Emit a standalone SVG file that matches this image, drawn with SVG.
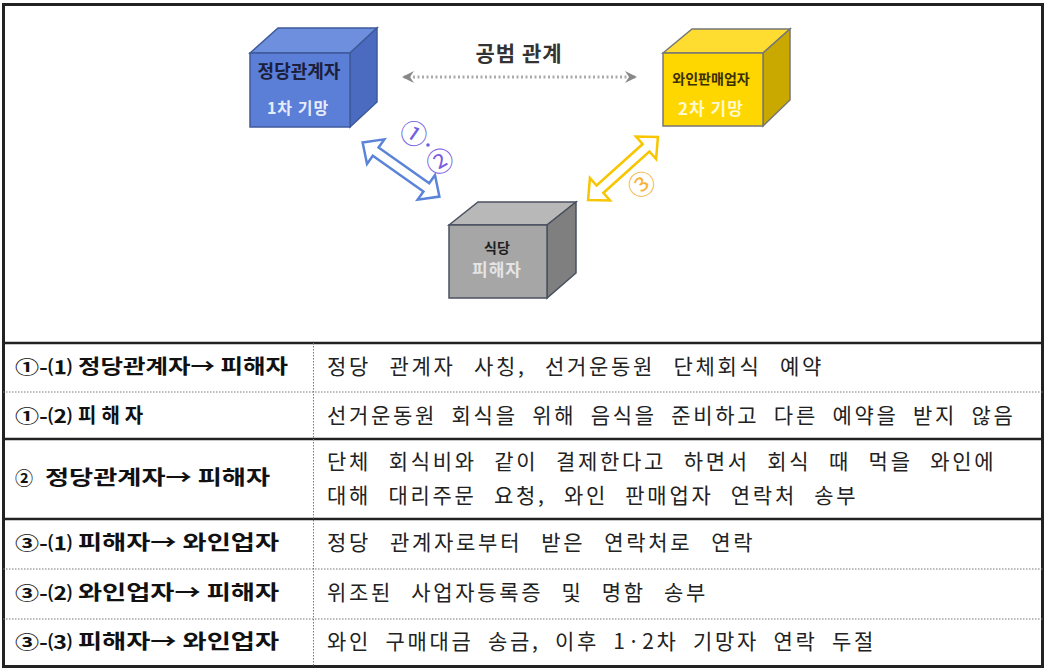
<svg xmlns="http://www.w3.org/2000/svg" width="1049" height="671" viewBox="0 0 1049 671">
<defs>
<style>
.k{font-family:"Noto Sans CJK KR","Noto Sans CJK SC",sans-serif}
.lb{font-family:"Noto Sans CJK KR",sans-serif;font-weight:bold;font-size:20px;fill:#111}
.lp{font-family:"Noto Sans CJK KR",sans-serif;font-weight:bold;font-size:18px;fill:#111}
.rt{font-family:"Noto Sans CJK KR",sans-serif;font-size:21px;fill:#222;letter-spacing:2.7px}
.thick{stroke:#222;stroke-width:2.5;fill:none}
.dot{stroke:#777;stroke-width:1;stroke-dasharray:1.5 1.5;fill:none}
</style>
<marker id="gh" viewBox="0 0 12 12" refX="10" refY="6" markerWidth="12" markerHeight="12" markerUnits="userSpaceOnUse" orient="auto-start-reverse">
<path d="M0,0 L12,6 L0,12 L4,6 Z" fill="#888"/>
</marker>
<path id="dbl" d="M-47,0 L-31,-15 L-31,-5 L31,-5 L31,-15 L47,0 L31,15 L31,5 L-31,5 L-31,15 Z"/>
</defs>
<rect x="0" y="0" width="1049" height="671" fill="#fff"/>

<g id="table">
<rect x="3.5" y="4.5" width="1039" height="662" fill="none" stroke="#222" stroke-width="3"/>
<line class="thick" x1="3" y1="343" x2="1043" y2="343"/>
<line class="dot" x1="3" y1="392" x2="1043" y2="392"/>
<line class="thick" x1="3" y1="439" x2="1043" y2="439"/>
<line class="thick" x1="3" y1="519" x2="1043" y2="519"/>
<line class="dot" x1="3" y1="569" x2="1043" y2="569"/>
<line class="dot" x1="3" y1="619" x2="1043" y2="619"/>
<line class="dot" x1="313.5" y1="343" x2="313.5" y2="666"/>
</g>

<g id="connectors">
<line x1="404" y1="77" x2="635" y2="77" stroke="#aaa" stroke-width="3" stroke-dasharray="2 2.5" marker-start="url(#gh)" marker-end="url(#gh)"/>
<use href="#dbl" transform="translate(401,169.5) rotate(35.2)" fill="#fff" stroke="#5b84d9" stroke-width="2.5" stroke-linejoin="miter"/>
<use href="#dbl" transform="translate(623,168.5) rotate(-42)" fill="#fff" stroke="#f7c600" stroke-width="2.5" stroke-linejoin="miter"/>
<text class="k" x="519" y="61" font-size="21" font-weight="bold" fill="#333" text-anchor="middle" letter-spacing="1">공범 관계</text>
<text class="k" x="0" y="0" font-size="27" fill="#7060e0" text-anchor="middle" transform="translate(408,142) rotate(35)">①</text>
<circle cx="428" cy="145" r="1.8" fill="#7060e0"/>
<text class="k" x="0" y="0" font-size="27" fill="#7a5ce0" text-anchor="middle" transform="translate(445,170) rotate(-30)">②</text>
<text class="k" x="0" y="0" font-size="27" fill="#f8b13a" text-anchor="middle" transform="translate(648,192) rotate(-40)">③</text>
</g>

<g id="node-party">
<polygon points="250,53 278,28 377,28 350,53" fill="#6d8fdd" stroke="#3f5a9a" stroke-width="1.5"/>
<polygon points="350,53 377,28 377,102 350,127" fill="#4a6bc0" stroke="#3f5a9a" stroke-width="1.5"/>
<rect x="250" y="53" width="100" height="74" fill="#5b7ed6" stroke="#3f5a9a" stroke-width="1.5"/>
<text class="k" x="299" y="78" font-size="18" font-weight="bold" fill="#1c1f3c" text-anchor="middle">정당관계자</text>
<text class="k" x="298" y="114" font-size="16" font-weight="bold" fill="#e6ecfb" text-anchor="middle" letter-spacing="1">1차 기망</text>
</g>

<g id="node-wine">
<polygon points="663,53 692,29 790,29 763,53" fill="#ffdc30" stroke="#777" stroke-width="1.5"/>
<polygon points="763,53 790,29 790,100 763,126" fill="#c9a800" stroke="#777" stroke-width="1.5"/>
<rect x="663" y="53" width="100" height="73" fill="#ffd700" stroke="#777" stroke-width="1.5"/>
<text class="k" x="711" y="84" font-size="14" font-weight="bold" fill="#3a3000" text-anchor="middle">와인판매업자</text>
<text class="k" x="711" y="115" font-size="17" font-weight="bold" fill="#fff8d0" text-anchor="middle" letter-spacing="1">2차 기망</text>
</g>

<g id="node-restaurant">
<polygon points="449,225 478,202 576,202 547,225" fill="#b8b8b8" stroke="#4a5060" stroke-width="1.5"/>
<polygon points="547,225 576,202 576,273 547,298" fill="#7f7f7f" stroke="#4a5060" stroke-width="1.5"/>
<rect x="449" y="225" width="98" height="73" fill="#a6a6a6" stroke="#4a5060" stroke-width="1.5"/>
<text class="k" x="497" y="253" font-size="14" font-weight="bold" fill="#1f1f1f" text-anchor="middle">식당</text>
<text class="k" x="497" y="276" font-size="17" font-weight="bold" fill="#e4e4e4" text-anchor="middle" letter-spacing="1">피해자</text>
</g>

<g id="rows">
<text class="lp" x="15" y="374" textLength="57" lengthAdjust="spacingAndGlyphs">①-⑴</text>
<text class="lb" x="78" y="374" textLength="210" lengthAdjust="spacingAndGlyphs">정당관계자→ 피해자</text>
<text class="rt" x="327" y="374" word-spacing="11">정당 관계자 사칭, 선거운동원 단체회식 예약</text>

<text class="lp" x="15" y="423" textLength="57" lengthAdjust="spacingAndGlyphs">①-⑵</text>
<text class="lb" x="78" y="423" letter-spacing="5">피해자</text>
<text class="rt" x="327" y="423" word-spacing="7.1">선거운동원 회식을 위해 음식을 준비하고 다른 예약을 받지 않음</text>

<text class="lp" x="15" y="485">②</text>
<text class="lb" x="45" y="485" textLength="225" lengthAdjust="spacingAndGlyphs">정당관계자→  피해자</text>
<text class="rt" x="327" y="469" word-spacing="10.2">단체 회식비와 같이 결제한다고 하면서 회식 때 먹을 와인에</text>
<text class="rt" x="327" y="503" word-spacing="10">대해 대리주문 요청, 와인 판매업자 연락처 송부</text>

<text class="lp" x="15" y="550" textLength="57" lengthAdjust="spacingAndGlyphs">③-⑴</text>
<text class="lb" x="78" y="550" textLength="201" lengthAdjust="spacingAndGlyphs">피해자→  와인업자</text>
<text class="rt" x="327" y="550" word-spacing="11.6">정당 관계자로부터 받은 연락처로 연락</text>

<text class="lp" x="15" y="600" textLength="57" lengthAdjust="spacingAndGlyphs">③-⑵</text>
<text class="lb" x="78" y="600" textLength="201" lengthAdjust="spacingAndGlyphs">와인업자→  피해자</text>
<text class="rt" x="327" y="600" word-spacing="10.8">위조된 사업자등록증 및 명함 송부</text>

<text class="lp" x="15" y="649" textLength="57" lengthAdjust="spacingAndGlyphs">③-⑶</text>
<text class="lb" x="78" y="649" textLength="201" lengthAdjust="spacingAndGlyphs">피해자→  와인업자</text>
<text class="rt" x="327" y="649" word-spacing="7">와인 구매대금 송금, 이후 1·2차 기망자 연락 두절</text>
</g>
</svg>
